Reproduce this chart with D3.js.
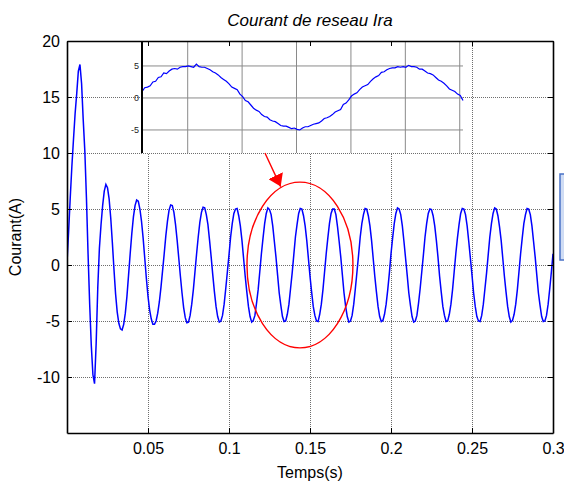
<!DOCTYPE html>
<html>
<head>
<meta charset="utf-8">
<script src="https://cdn.jsdelivr.net/npm/d3@7"></script>
<style>
body { margin: 0; background: #fff; }
text { font-family: "Liberation Sans", Arial, sans-serif; }
</style>
</head>
<body>
<svg id="chart"></svg>
<script>
// Courant de reseau Ira, un echantillon par ms (0 .. 0.3 s)
const pas = 0.001;
const courant = [
    0.2, 3.0, 6.0, 8.8, 11.2, 13.5, 15.3, 17.3, 17.9, 16.2, 13.0, 10.2, 6.0, 1.0, -3.5, -7.2, -9.8, -10.6, -7.0, -2.0,
    1.5, 3.6, 5.3, 6.6, 7.2, 6.9, 5.9, 4.2, 2.0, -0.4, -2.6, -4.2, -5.2, -5.7, -5.8, -5.3, -4.3, -2.8, -0.9, 1.0,
    2.8, 4.3, 5.3, 5.8, 5.7, 5.0, 3.9, 2.4, 0.6, -1.2, -2.8, -4.0, -4.8, -5.3, -5.3, -5.0, -4.3, -3.3, -2.0, -0.5,
    1.0, 2.6, 3.9, 4.9, 5.35, 5.3, 4.7, 3.6, 2.2, 0.6, -1.0, -2.5, -3.8, -4.7, -5.15, -5.1, -4.5, -3.5, -2.2, -0.6,
    1.0, 2.5, 3.8, 4.7, 5.15, 5.1, 4.5, 3.6, 2.2, 0.7, -0.9, -2.4, -3.7, -4.6, -5.1, -5.0, -4.5, -3.5, -2.1, -0.6,
    0.9, 2.5, 3.7, 4.6, 5.0, 5.05, 4.4, 3.5, 2.2, 0.6, -1.0, -2.4, -3.7, -4.6, -5.1, -4.95, -4.5, -3.4, -2.2, -0.6,
    1.0, 2.4, 3.7, 4.6, 5.1, 4.95, 4.5, 3.5, 2.1, 0.7, -0.9, -2.5, -3.6, -4.6, -5.05, -5.0, -4.4, -3.5, -2.1, -0.7,
    0.9, 2.5, 3.6, 4.6, 5.05, 5.0, 4.4, 3.5, 2.2, 0.6, -1.0, -2.4, -3.7, -4.5, -5.0, -5.05, -4.4, -3.5, -2.2, -0.6,
    1.0, 2.4, 3.7, 4.6, 5.0, 5.0, 4.5, 3.4, 2.1, 0.7, -0.9, -2.5, -3.7, -4.6, -5.1, -5.0, -4.5, -3.5, -2.1, -0.6,
    0.9, 2.5, 3.7, 4.5, 5.05, 5.0, 4.4, 3.5, 2.2, 0.6, -1.0, -2.4, -3.7, -4.6, -5.05, -4.95, -4.4, -3.5, -2.2, -0.7,
    1.0, 2.4, 3.7, 4.6, 5.1, 5.0, 4.5, 3.5, 2.1, 0.6, -0.9, -2.5, -3.6, -4.6, -5.1, -5.0, -4.5, -3.4, -2.1, -0.6,
    0.9, 2.5, 3.7, 4.6, 5.0, 4.95, 4.4, 3.5, 2.2, 0.7, -1.0, -2.4, -3.7, -4.5, -5.05, -5.0, -4.4, -3.5, -2.2, -0.6,
    1.0, 2.4, 3.6, 4.6, 5.05, 5.0, 4.5, 3.5, 2.1, 0.6, -0.9, -2.5, -3.7, -4.6, -5.0, -5.05, -4.5, -3.5, -2.1, -0.7,
    0.9, 2.5, 3.7, 4.6, 5.1, 5.0, 4.4, 3.4, 2.2, 0.6, -1.0, -2.4, -3.7, -4.6, -5.1, -4.95, -4.4, -3.5, -2.2, -0.6,
    1.0, 2.4, 3.7, 4.5, 5.05, 5.0, 4.5, 3.5, 2.1, 0.7, -0.9, -2.5, -3.6, -4.6, -5.05, -5.0, -4.5, -3.5, -2.1, -0.6,
    1.0
];

// zoom (encart) : un echantillon toutes les 0.25 ms a partir de 0.1308 s
const zoom_t0 = 0.1308;
const zoom_pas = 0.00025;
const courant_zoom = [
    1.0, 1.6, 1.7, 1.9, 2.5, 2.6, 3.2, 3.3, 3.9, 3.8,
    4.2, 4.5, 4.6, 4.5, 4.8, 4.9, 4.9, 5.0, 4.9, 4.8,
    5.3, 4.9, 4.8, 4.8, 4.6, 4.4, 4.1, 3.9, 3.6, 3.2,
    2.9, 2.6, 2.2, 1.7, 1.5, 1.3, 0.6, 0.2, -0.4, -0.6,
    -1.1, -1.6, -1.9, -2.1, -2.6, -2.9, -3.0, -3.4, -3.6, -3.7,
    -4.0, -4.3, -4.4, -4.4, -4.6, -4.8, -4.7, -4.9, -5.0, -4.7,
    -4.5, -4.5, -4.3, -4.1, -4.0, -3.9, -3.6, -3.2, -3.1, -2.9,
    -2.6, -2.2, -2.0, -1.8, -1.0, -0.8, -0.3, 0.3, 0.6, 0.8,
    1.3, 1.7, 1.9, 2.1, 2.6, 3.0, 3.3, 3.5, 4.0, 4.1,
    4.4, 4.6, 4.7, 4.7, 4.9, 4.8, 4.9, 4.8, 5.1, 4.9,
    4.9, 4.8, 4.5, 4.5, 4.2, 3.9, 3.8, 3.6, 3.2, 2.8,
    2.6, 2.3, 1.9, 1.4, 1.2, 1.0, 0.6, 0.4, -0.4
];

const x_ticks = [0.05, 0.1, 0.15, 0.2, 0.25, 0.3];
const y_ticks = [-10, -5, 0, 5, 10, 15, 20];
const zoom_x_grid = [0.135, 0.14, 0.145, 0.15, 0.155, 0.16];
const zoom_y_ticks = [-5, 0, 5];

class CourantChart {

    constructor( config ) {
        this.config = {
            parent: config.parent,
            width: config.width || 564,
            height: config.height || 485,
            margin: config.margin || {top:41, right:11, bottom:52, left:67},
            font_size: config.font_size || 16,
            title: config.title || 'title'
        };
        this.init();
    }

    init() {
        let self = this;

        self.svg = d3.select( self.config.parent )
            .attr('width', self.config.width)
            .attr('height', self.config.height);

        self.inner_width = self.config.width - self.config.margin.left - self.config.margin.right;
        self.inner_height = self.config.height - self.config.margin.top - self.config.margin.bottom;

        self.chart = self.svg.append('g')
            .attr('transform', `translate(${self.config.margin.left}, ${self.config.margin.top})`);

        self.xscale = d3.scaleLinear().domain([0, 0.3]).range([0, self.inner_width]);
        self.yscale = d3.scaleLinear().domain([-15, 20]).range([self.inner_height, 0]);

        // encart
        self.zx = d3.scaleLinear().domain([zoom_t0, zoom_t0 + zoom_pas * (courant_zoom.length - 1)]).range([75, 396]);
        self.zy = d3.scaleLinear().domain([-8.6, 8.9]).range([112, 0]);
    }

    render() {
        let self = this;
        const w = self.inner_width, h = self.inner_height;

        // grille principale
        const grid = self.chart.append('g').attr('class', 'grid');
        grid.append('g')
            .attr('transform', `translate(0, ${h})`)
            .call(d3.axisBottom(self.xscale).tickValues(x_ticks).tickSize(-h).tickFormat(''));
        grid.append('g')
            .call(d3.axisLeft(self.yscale).tickValues(y_ticks).tickSize(-w).tickFormat(''));
        grid.selectAll('.domain').remove();
        grid.selectAll('line')
            .attr('stroke', '#6e6e6e')
            .attr('stroke-width', 1)
            .attr('stroke-dasharray', '1,1');

        self.chart.append('clipPath').attr('id', 'clip')
            .append('rect').attr('width', w).attr('height', h);

        const line = d3.line()
            .x((d, i) => self.xscale(i * pas))
            .y(d => self.yscale(d));

        self.chart.append('path')
            .datum(courant)
            .attr('clip-path', 'url(#clip)')
            .attr('fill', 'none')
            .attr('stroke', '#0000ff')
            .attr('stroke-width', 1.5)
            .attr('d', line);

        // ellipse rouge
        self.chart.append('ellipse')
            .attr('cx', self.xscale(0.1438))
            .attr('cy', self.yscale(0))
            .attr('rx', self.xscale(0.0327) - self.xscale(0))
            .attr('ry', self.yscale(0) - self.yscale(7.4))
            .attr('fill', 'none')
            .attr('stroke', '#ff0000')
            .attr('stroke-width', 1.4);

        self.render_zoom();

        // fleche rouge
        self.svg.append('defs').append('marker')
            .attr('id', 'tete')
            .attr('markerUnits', 'userSpaceOnUse')
            .attr('markerWidth', 12).attr('markerHeight', 16)
            .attr('refX', 12).attr('refY', 8)
            .attr('orient', 'auto')
            .append('path')
            .attr('d', 'M0,0 L12,8 L0,16 Z')
            .attr('fill', '#ff0000');

        self.chart.append('line')
            .attr('x1', self.xscale(0.1222)).attr('y1', self.yscale(10))
            .attr('x2', self.xscale(0.1319)).attr('y2', self.yscale(7.0))
            .attr('stroke', '#ff0000')
            .attr('stroke-width', 1.4)
            .attr('marker-end', 'url(#tete)');

        // axes
        const xaxis = self.chart.append('g')
            .attr('transform', `translate(0, ${h})`)
            .call(d3.axisBottom(self.xscale).tickValues(x_ticks).tickSizeInner(-5).tickSizeOuter(0).tickPadding(10)
                .tickFormat(d => String(d)));
        const yaxis = self.chart.append('g')
            .call(d3.axisLeft(self.yscale).tickValues(y_ticks).tickSizeInner(-5).tickSizeOuter(0).tickPadding(7)
                .tickFormat(d => String(d)));
        const xtop = self.chart.append('g')
            .call(d3.axisTop(self.xscale).tickValues(x_ticks).tickSizeInner(-5).tickSizeOuter(0).tickFormat(''));
        const yright = self.chart.append('g')
            .attr('transform', `translate(${w}, 0)`)
            .call(d3.axisRight(self.yscale).tickValues(y_ticks).tickSizeInner(-5).tickSizeOuter(0).tickFormat(''));

        [xaxis, yaxis, xtop, yright].forEach(a => {
            a.select('.domain').attr('stroke', '#000').attr('stroke-width', 1.6);
            a.selectAll('.tick line').attr('stroke', '#000').attr('stroke-width', 1);
            a.selectAll('.tick text')
                .attr('font-size', self.config.font_size)
                .attr('fill', '#000')
                .style('font-family', '"Liberation Sans", Arial, sans-serif');
        });

        // textes
        self.svg.append('text')
            .attr('x', self.config.margin.left + w / 2)
            .attr('y', 26)
            .attr('text-anchor', 'middle')
            .attr('font-size', 17)
            .attr('font-style', 'italic')
            .text( self.config.title );

        self.svg.append('text')
            .attr('x', self.config.margin.left + w / 2)
            .attr('y', 478)
            .attr('text-anchor', 'middle')
            .attr('font-size', self.config.font_size)
            .text('Temps(s)');

        self.svg.append('text')
            .attr('transform', `translate(21, ${self.config.margin.top + h / 2}) rotate(-90)`)
            .attr('text-anchor', 'middle')
            .attr('font-size', self.config.font_size)
            .text('Courant(A)');

        // boite bleue coupee au bord droit
        self.svg.append('rect')
            .attr('x', 560).attr('y', 174)
            .attr('width', 14).attr('height', 86)
            .attr('fill', '#cfdcf4')
            .attr('stroke', '#4a72c6')
            .attr('stroke-width', 1.5);
    }

    render_zoom() {
        let self = this;
        const z = self.chart.append('g');
        const [x0, x1] = self.zx.range();
        const [y1, y0] = self.zy.range();

        z.append('rect')
            .attr('x', x0).attr('y', y0)
            .attr('width', x1 - x0).attr('height', y1 - y0)
            .attr('fill', '#fff');

        z.selectAll('.vgrid').data(zoom_x_grid).join('line')
            .attr('x1', d => self.zx(d)).attr('x2', d => self.zx(d))
            .attr('y1', y0).attr('y2', y1)
            .attr('stroke', '#8a8a8a').attr('stroke-width', 1);

        z.selectAll('.hgrid').data(zoom_y_ticks).join('line')
            .attr('x1', x0).attr('x2', x1)
            .attr('y1', d => self.zy(d)).attr('y2', d => self.zy(d))
            .attr('stroke', '#8a8a8a').attr('stroke-width', 1);

        const line = d3.line()
            .x((d, i) => self.zx(zoom_t0 + i * zoom_pas))
            .y(d => self.zy(d));

        z.append('path')
            .datum(courant_zoom)
            .attr('fill', 'none')
            .attr('stroke', '#0000ff')
            .attr('stroke-width', 1.2)
            .attr('d', line);

        z.append('line')
            .attr('x1', x0).attr('x2', x0)
            .attr('y1', y0).attr('y2', y1)
            .attr('stroke', '#000').attr('stroke-width', 2);

        z.selectAll('.zlab').data(zoom_y_ticks).join('text')
            .attr('x', x0 - 3)
            .attr('y', d => self.zy(d))
            .attr('dy', '0.35em')
            .attr('text-anchor', 'end')
            .attr('font-size', 9)
            .attr('fill', '#222')
            .text(d => String(d));
    }
}

let chart = new CourantChart({
    parent: '#chart',
    width: 564,
    height: 485,
    font_size: 16,
    title: 'Courant de reseau Ira'
});
chart.render();
</script>
</body>
</html>
